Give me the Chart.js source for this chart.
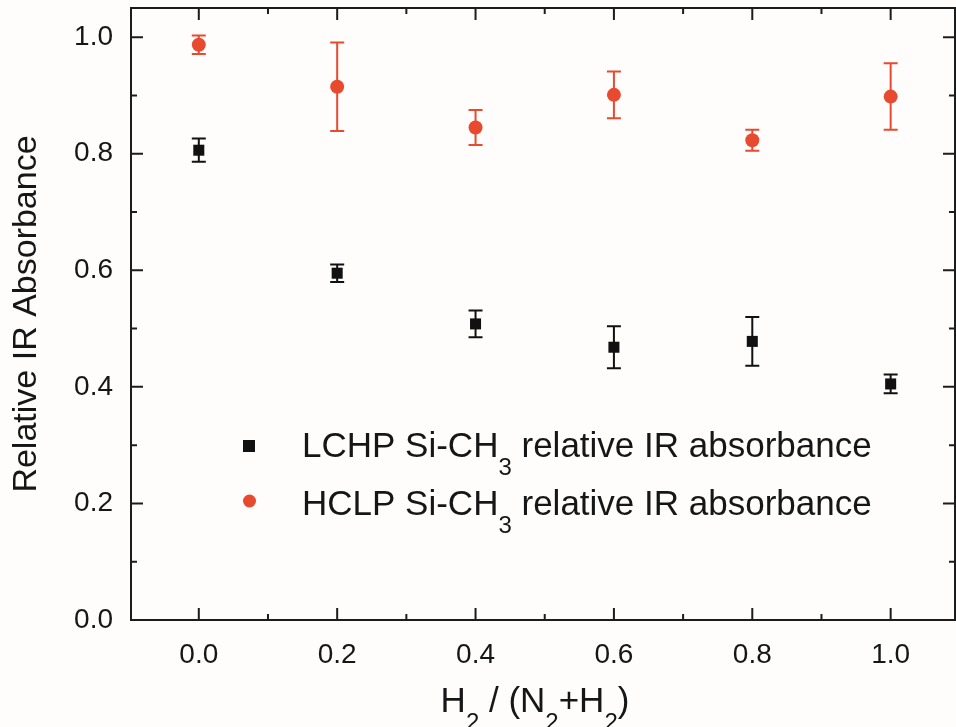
<!DOCTYPE html>
<html>
<head>
<meta charset="utf-8">
<script src="https://cdn.jsdelivr.net/npm/chart.js@4.4.1/dist/chart.umd.min.js"></script>
<style>
  html, body { margin: 0; padding: 0; background: #fefdfb; }
  #miGrafico { display: block; }
</style>
</head>
<body>
<canvas id="miGrafico" width="956" height="727"></canvas>
<script>
// Fracción H2 / (N2+H2) en el eje X
let fraccionH2 = [0.0, 0.2, 0.4, 0.6, 0.8, 1.0];

// LCHP: absorbancia IR relativa de Si-CH3 y su barra de error
let absLCHP = [0.806, 0.595, 0.508, 0.468, 0.478, 0.405];
let errLCHP = [0.020, 0.015, 0.023, 0.036, 0.042, 0.016];

// HCLP: absorbancia IR relativa de Si-CH3 y su barra de error
let absHCLP = [0.987, 0.915, 0.845, 0.901, 0.823, 0.898];
let errHCLP = [0.016, 0.076, 0.030, 0.040, 0.018, 0.057];

// Marcas de los ejes (mayores con etiqueta, menores sin ella)
let ticksX = [0.0, 0.2, 0.4, 0.6, 0.8, 1.0];
let ticksY = [0.0, 0.2, 0.4, 0.6, 0.8, 1.0];
let menoresX = [0.1, 0.3, 0.5, 0.7, 0.9];
let menoresY = [0.1, 0.3, 0.5, 0.7, 0.9];

let rojo = '#e84a2f';
let negro = '#111111';
let colorEjes = '#1c1c1c';
let fuente = "'Liberation Sans', Arial, sans-serif";

function puntos(ys) {
    return fraccionH2.map((x, i) => ({ x: x, y: ys[i] }));
}

// Escribe texto con subíndices: partes = [[texto, esSub], ...]
function textoConSub(ctx, partes, x, y, tam, centrado) {
    let tamSub = Math.round(tam * 0.68);
    let ancho = 0;
    partes.forEach(p => {
        ctx.font = (p[1] ? tamSub : tam) + 'px ' + fuente;
        ancho += ctx.measureText(p[0]).width;
    });
    let cx = centrado ? x - ancho / 2 : x;
    ctx.textAlign = 'left';
    ctx.textBaseline = 'alphabetic';
    partes.forEach(p => {
        ctx.font = (p[1] ? tamSub : tam) + 'px ' + fuente;
        ctx.fillText(p[0], cx, p[1] ? y + tam * 0.5 : y);
        cx += ctx.measureText(p[0]).width;
    });
}

// Barras de error (antes de los puntos para que queden debajo)
let barrasError = {
    id: 'barrasError',
    beforeDatasetsDraw(chart) {
        let ctx = chart.ctx;
        let sx = chart.scales.x, sy = chart.scales.y;
        ctx.save();
        chart.data.datasets.forEach(ds => {
            ctx.strokeStyle = ds.borderColor;
            ctx.lineWidth = 2;
            ds.data.forEach((d, i) => {
                let px = sx.getPixelForValue(d.x);
                let arriba = sy.getPixelForValue(d.y + ds.errores[i]);
                let abajo = sy.getPixelForValue(d.y - ds.errores[i]);
                ctx.beginPath();
                ctx.moveTo(px, arriba); ctx.lineTo(px, abajo);
                ctx.moveTo(px - 7, arriba); ctx.lineTo(px + 7, arriba);
                ctx.moveTo(px - 7, abajo); ctx.lineTo(px + 7, abajo);
                ctx.stroke();
            });
        });
        ctx.restore();
    }
};

// Marco cerrado con marcas hacia dentro en los cuatro lados
let marco = {
    id: 'marco',
    beforeDatasetsDraw(chart) {
        let ctx = chart.ctx;
        let a = chart.chartArea;
        let sx = chart.scales.x, sy = chart.scales.y;
        ctx.save();
        ctx.strokeStyle = colorEjes;
        ctx.lineWidth = 2;
        ctx.strokeRect(a.left, a.top, a.right - a.left, a.bottom - a.top);
        ctx.beginPath();
        let marcasX = ticksX.map(v => [v, 12]).concat(menoresX.map(v => [v, 6]));
        marcasX.forEach(m => {
            let px = sx.getPixelForValue(m[0]);
            ctx.moveTo(px, a.bottom); ctx.lineTo(px, a.bottom - m[1]);
            ctx.moveTo(px, a.top); ctx.lineTo(px, a.top + m[1]);
        });
        let marcasY = ticksY.map(v => [v, 12]).concat(menoresY.map(v => [v, 6]));
        marcasY.forEach(m => {
            let py = sy.getPixelForValue(m[0]);
            ctx.moveTo(a.left, py); ctx.lineTo(a.left + m[1], py);
            ctx.moveTo(a.right, py); ctx.lineTo(a.right - m[1], py);
        });
        ctx.stroke();
        ctx.restore();
    }
};

// Leyenda y títulos de ejes (llevan subíndices)
let textos = {
    id: 'textos',
    afterDraw(chart) {
        let ctx = chart.ctx;
        let a = chart.chartArea;
        let ds = chart.data.datasets;
        ctx.save();

        // leyenda
        ctx.fillStyle = ds[0].backgroundColor;
        ctx.fillRect(243, 440, 12, 12);
        ctx.fillStyle = ds[1].backgroundColor;
        ctx.beginPath();
        ctx.arc(249.5, 501, 6.5, 0, Math.PI * 2);
        ctx.fill();
        ctx.fillStyle = '#161616';
        textoConSub(ctx, [['LCHP Si-CH', false], ['3', true], [' relative IR absorbance', false]], 302, 457, 35, false);
        textoConSub(ctx, [['HCLP Si-CH', false], ['3', true], [' relative IR absorbance', false]], 302, 515, 35, false);

        // título eje X
        textoConSub(ctx, [['H', false], ['2', true], [' / (N', false], ['2', true], ['+H', false], ['2', true], [')', false]],
            (a.left + a.right) / 2 - 8, 712, 35, true);

        // título eje Y
        ctx.translate(27, (a.top + a.bottom) / 2);
        ctx.rotate(-Math.PI / 2);
        ctx.font = '34px ' + fuente;
        ctx.textAlign = 'center';
        ctx.textBaseline = 'middle';
        ctx.fillText('Relative IR Absorbance', 0, 0);
        ctx.restore();
    }
};

let ctx = document.getElementById('miGrafico').getContext('2d');

let datos = {
    datasets: [{
        label: 'LCHP Si-CH3 relative IR absorbance',
        data: puntos(absLCHP),
        errores: errLCHP,
        pointStyle: 'rect',
        pointRadius: 7.8,
        backgroundColor: negro,
        borderColor: negro,
        borderWidth: 0
    }, {
        label: 'HCLP Si-CH3 relative IR absorbance',
        data: puntos(absHCLP),
        errores: errHCLP,
        pointStyle: 'circle',
        pointRadius: 7,
        backgroundColor: rojo,
        borderColor: rojo,
        borderWidth: 0
    }]
};

let config = {
    type: 'scatter',
    data: datos,
    options: {
        responsive: false,
        animation: false,
        devicePixelRatio: 1,
        layout: { autoPadding: false, padding: { top: 8, right: 1, left: 0, bottom: 0 } },
        plugins: {
            legend: { display: false },
            tooltip: { enabled: false }
        },
        scales: {
            x: {
                type: 'linear',
                min: -0.098,
                max: 1.093,
                grid: { display: false, drawTicks: false },
                border: { display: false },
                afterBuildTicks: s => { s.ticks = ticksX.map(v => ({ value: v })); },
                afterFit: s => { s.height = 107; s.paddingLeft = 0; s.paddingRight = 0; },
                ticks: {
                    padding: 18,
                    color: '#161616',
                    font: { family: fuente, size: 28 },
                    callback: v => v.toFixed(1)
                }
            },
            y: {
                min: 0,
                max: 1.05,
                grid: { display: false, drawTicks: false },
                border: { display: false },
                afterBuildTicks: s => { s.ticks = ticksY.map(v => ({ value: v })); },
                afterFit: s => { s.width = 131; s.paddingTop = 0; s.paddingBottom = 0; },
                ticks: {
                    padding: 18,
                    color: '#161616',
                    font: { family: fuente, size: 28 },
                    callback: v => v.toFixed(1)
                }
            }
        }
    },
    plugins: [marco, barrasError, textos]
};

new Chart(ctx, config);
</script>
</body>
</html>
